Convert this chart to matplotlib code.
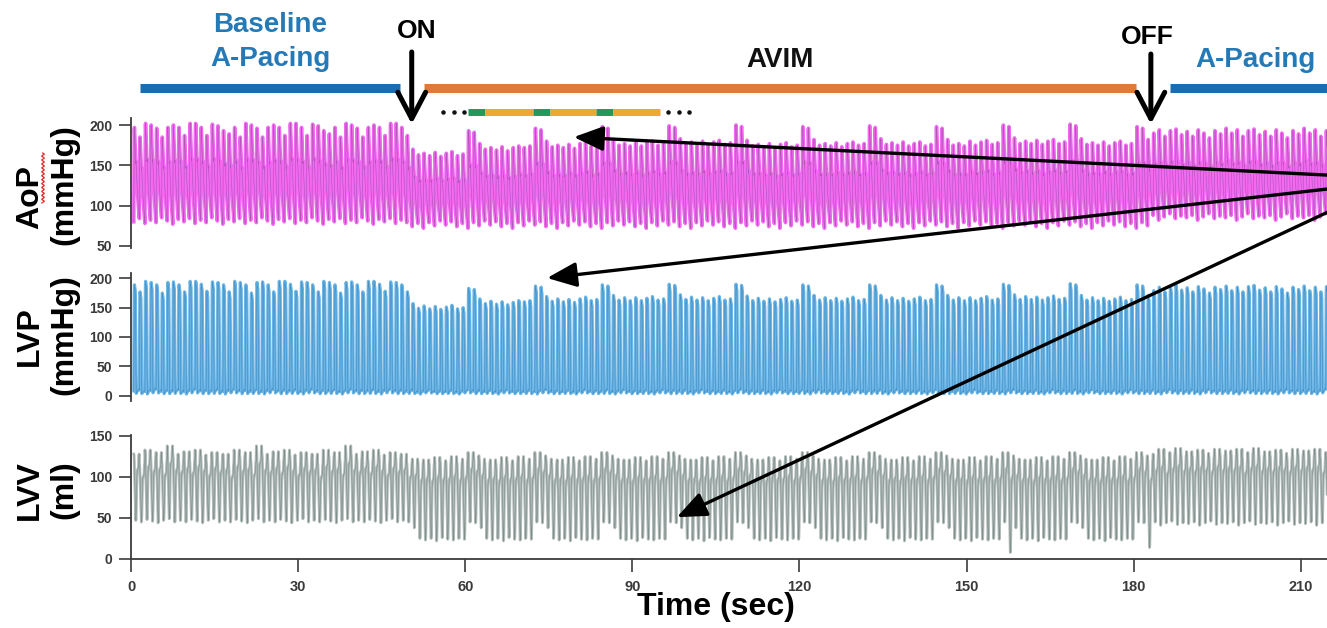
import numpy as np
import matplotlib
matplotlib.use("Agg")
import matplotlib.pyplot as plt
from matplotlib.transforms import blended_transform_factory

# ---------------- data ----------------
time_ticks = [0, 30, 60, 90, 120, 150, 180, 210]
aop_ticks = [50, 100, 150, 200]
lvp_ticks = [0, 50, 100, 150, 200]
lvv_ticks = [0, 50, 100, 150]

beat_period = 1.0          # s between beats
first_beat = 0.5           # s
t_end = 216.0
avim_on = 50.4             # ON arrow
avim_off = 183.1           # OFF arrow
avim_first_normal = 60.5   # first normal-AV ("green") beat of the AVIM cycle
avim_cycle_len = 12        # beats per AVIM cycle

phase_texts = ["Baseline\nA-Pacing", "AVIM", "A-Pacing"]
phase_start = [1.6, 52.6, 186.5]
phase_end = [48.3, 180.4, 218.0]
phase_text_x = [25.0, 116.5, 201.8]
phase_colors = ["#1b6db2", "#e07a3b", "#1b6db2"]
phase_text_colors = ["#2479b7", "#111111", "#2479b7"]

# AVIM pattern bar: n = normal AV (green), a = AVIM (orange)
pattern_start = [60.5, 63.5, 72.2, 75.2, 83.5, 86.5]
pattern_end = [63.5, 72.2, 75.2, 83.5, 86.5, 95.0]
pattern_kind = ["n", "a", "n", "a", "n", "a"]
pattern_dots = [56.0, 57.9, 59.7, 96.4, 98.3, 100.2]

# baseline / post-AVIM beat-to-beat peaks (cycled)
aop_base_sys = [197, 185, 202, 200, 196, 185, 197, 200, 197, 187, 202, 202, 197, 187, 201, 199, 193, 189]
aop_post_sys = [196, 190, 194, 186, 193, 195, 188, 192, 186, 194, 190, 184, 193, 189]
aop_base_dia = [80, 84, 78, 82, 79, 85, 81, 77, 83]
aop_avim_dia = [76, 80, 74, 78, 72, 79, 75, 81]
aop_post_dia = [85, 88, 82, 86, 90, 84, 87]

lvp_base_sys = [190, 178, 196, 194, 190, 176, 194, 195, 190, 178, 196, 196, 191, 179, 195, 194]
lvp_post_sys = [188, 180, 186, 178, 187, 189, 181, 185, 178, 187, 183, 176, 186, 182]
lvp_min = [3, 5, 2, 4, 6, 3, 4]

lvv_base_max = [128, 117, 133, 126, 130, 120, 138, 128, 124, 131, 122, 133, 127, 119, 130, 125]
lvv_post_max = [132, 128, 134, 124, 130, 135, 127, 131, 126, 133, 129, 125, 134, 128]
lvv_base_min = [47, 45, 48, 46, 44, 47, 49, 45]
lvv_post_min = [43, 45, 41, 44, 46, 42, 44]

# AVIM: one 12-beat cycle (2 normal-AV beats, then 10 AVIM beats)
aop_cycle_sys = [198, 196, 182, 175, 177, 174, 178, 173, 177, 179, 174, 176]
lvp_cycle_sys = [190, 188, 172, 164, 168, 163, 167, 162, 166, 169, 163, 165]
lvv_cycle_min = [45, 44, 38, 25, 23, 25, 22, 26, 24, 23, 25, 24]
lvv_cycle_max = [130, 126, 122, 118, 121, 117, 124, 119, 120, 125, 118, 122]

# slow drift of the AVIM peaks, per 10-s window
avim_win_start = [50, 60, 70, 80, 90, 100, 110, 120, 130, 140, 150, 160, 170, 180]
aop_avim_drift = [-12, -5, -2, 0, 1, 2, -1, 0, 1, 0, 2, 3, 1, 0]
lvp_avim_drift = [-14, -6, -2, 0, 1, 1, -1, 0, 0, 0, 1, 2, 0, 0]

# recording artefacts (deep LVV dips)
artifact_times = [157.5, 182.5]
lvv_artifact_min = [8, 14]

# one-beat wave shapes (fraction of the beat's min..max range)
aop_shape_phase = [0.0, 0.07, 0.12, 0.30, 0.34, 0.40, 0.55, 0.70, 0.85, 1.0]
aop_shape_frac = [0.0, 0.96, 1.0, 0.72, 0.60, 0.64, 0.42, 0.25, 0.11, 0.0]
lvp_shape_phase = [0.0, 0.06, 0.10, 0.28, 0.36, 0.42, 0.55, 0.90, 1.0]
lvp_shape_frac = [0.03, 0.85, 1.0, 0.93, 0.50, 0.0, 0.015, 0.04, 0.03]
lvv_shape_phase = [0.0, 0.06, 0.36, 0.42, 0.55, 0.62, 0.84, 0.93, 1.0]
lvv_shape_frac = [1.0, 0.98, 0.0, 0.02, 0.66, 0.75, 0.80, 1.0, 1.0]

# ---------------- build the traces ----------------
beat_times = []
t = first_beat
while t < t_end:
    beat_times.append(t)
    t += beat_period

aop_sys, aop_dia, lvp_sys, lvp_lo, lvv_hi, lvv_lo = [], [], [], [], [], []
for i, tb in enumerate(beat_times):
    if tb < avim_on:
        aop_sys.append(aop_base_sys[i % len(aop_base_sys)])
        aop_dia.append(aop_base_dia[i % len(aop_base_dia)])
        lvp_sys.append(lvp_base_sys[i % len(lvp_base_sys)])
        lvv_hi.append(lvv_base_max[i % len(lvv_base_max)])
        lvv_lo.append(lvv_base_min[i % len(lvv_base_min)])
    elif tb < avim_off:
        k = int(round((tb - avim_first_normal) / beat_period)) % avim_cycle_len
        w = int(np.searchsorted(avim_win_start, tb, side="right") - 1)
        aop_sys.append(aop_cycle_sys[k] + aop_avim_drift[w])
        aop_dia.append(aop_avim_dia[i % len(aop_avim_dia)])
        lvp_sys.append(lvp_cycle_sys[k] + lvp_avim_drift[w])
        lvv_hi.append(lvv_cycle_max[k])
        lvv_lo.append(lvv_cycle_min[k])
    else:
        aop_sys.append(aop_post_sys[i % len(aop_post_sys)])
        aop_dia.append(aop_post_dia[i % len(aop_post_dia)])
        lvp_sys.append(lvp_post_sys[i % len(lvp_post_sys)])
        lvv_hi.append(lvv_post_max[i % len(lvv_post_max)])
        lvv_lo.append(lvv_post_min[i % len(lvv_post_min)])
    lvp_lo.append(lvp_min[i % len(lvp_min)])
    for ta, va in zip(artifact_times, lvv_artifact_min):
        if abs(tb - ta) < beat_period / 2:
            lvv_lo[-1] = va

phase_grid = np.linspace(0, 1, 26)[:-1]


def build(lo, hi, sp, sf, lo_next_blend=True):
    xs, ys = [], []
    fr = np.interp(phase_grid, sp, sf)
    for i, tb in enumerate(beat_times):
        lo_i = lo[i]
        lo_n = lo[i + 1] if i + 1 < len(lo) else lo[i]
        base = lo_i + phase_grid * (lo_n - lo_i) if lo_next_blend else lo_i
        xs.append(tb + phase_grid * beat_period)
        ys.append(base + fr * (hi[i] - base))
    return np.concatenate(xs), np.concatenate(ys)


t_aop, y_aop = build(aop_dia, aop_sys, aop_shape_phase, aop_shape_frac)
t_lvp, y_lvp = build(lvp_lo, lvp_sys, lvp_shape_phase, lvp_shape_frac)
t_lvv, y_lvv = build(lvv_lo, lvv_hi, lvv_shape_phase, lvv_shape_frac, lo_next_blend=False)

# ---------------- figure ----------------
plt.rcParams["font.family"] = ["Liberation Sans", "DejaVu Sans"]
W, H = 1327, 628
fig = plt.figure(figsize=(W / 100, H / 100), dpi=100)


def frac_rect(x0, y_top, x1, y_bot):
    return [x0 / W, (H - y_bot) / H, (x1 - x0) / W, (y_bot - y_top) / H]


left_px = 131
ax_aop = fig.add_axes(frac_rect(left_px, 118, W, 248))
ax_lvp = fig.add_axes(frac_rect(left_px, 273, W, 401))
ax_lvv = fig.add_axes(frac_rect(left_px, 435, W, 559))

xmax = (W - left_px) / 5.57
spine_c = "#3c3c3c"
tick_c = "#3a3a3a"

traces = [
    (ax_aop, t_aop, y_aop, "#f26af2", "#9c4aa2", 0.7, (47.5, 208.7), aop_ticks, 2.6),
    (ax_lvp, t_lvp, y_lvp, "#6cb6e6", "#2f7bb5", 0.7, (-8.5, 208.5), lvp_ticks, 2.3),
    (ax_lvv, t_lvv, y_lvv, "#b0bcb9", "#56615f", 0.5, (0, 151.2), lvv_ticks, 2.0),
]
for ax, tx, ty, c_light, c_dark, a_dark, ylim, yt, lw in traces:
    ax.plot(tx, ty, color=c_light, lw=lw, solid_joinstyle="round")
    ax.plot(tx, ty, color=c_dark, lw=0.45, alpha=a_dark)
    ax.set_xlim(0, xmax)
    ax.set_ylim(*ylim)
    ax.set_yticks(yt)
    ax.set_yticklabels([str(v) for v in yt], fontsize=10, fontweight="bold", color=tick_c)
    for s in ("top", "right"):
        ax.spines[s].set_visible(False)
    ax.spines["left"].set_color(spine_c)
    ax.spines["left"].set_linewidth(1.3)
    ax.tick_params(axis="y", direction="out", length=8.5, width=1.2, color=spine_c, pad=5)
    ax.patch.set_alpha(0)

for ax in (ax_aop, ax_lvp):
    ax.spines["bottom"].set_visible(False)
    ax.set_xticks([])

ax_lvv.spines["bottom"].set_color(spine_c)
ax_lvv.spines["bottom"].set_linewidth(1.3)
ax_lvv.set_xticks(time_ticks)
ax_lvv.set_xticklabels([str(v) for v in time_ticks], fontsize=10.5, fontweight="bold", color=tick_c)
ax_lvv.tick_params(axis="x", direction="out", length=9, width=1.2, color=spine_c, pad=6)

# ---------------- overlay (annotations in pixel space) ----------------
ov = fig.add_axes([0, 0, 1, 1], zorder=10)
ov.set_xlim(0, W)
ov.set_ylim(H, 0)
ov.axis("off")
ov.patch.set_alpha(0)
bt = blended_transform_factory(ax_aop.transData, ov.transData)

ov.text(105, 607, "Time (sec)", fontsize=23, fontweight="bold", ha="center", va="center", transform=bt)

# y labels
for txt, x, y in [("AoP", 30, 197), ("(mmHg)", 64, 185), ("LVP", 30, 336), ("(mmHg)", 64, 335),
                  ("LVV", 30, 490), ("(ml)", 64, 490)]:
    ov.text(x, y, txt, rotation=90, fontsize=23, fontweight="bold", ha="center", va="center")
sq_y = np.linspace(153, 203, 80)
ov.plot(43 + 1.3 * np.sin(sq_y * 1.6), sq_y, color="#e03030", lw=0.9)

# phase bars and labels
for s, e, c in zip(phase_start, phase_end, phase_colors):
    ov.plot([s, e], [87.5, 87.5], color=c, lw=6.5, solid_capstyle="butt", transform=bt, clip_on=False)
ov.text(phase_text_x[0], 25, "Baseline", color=phase_text_colors[0], fontsize=20, fontweight="bold",
        ha="center", va="center", transform=bt)
ov.text(phase_text_x[0], 59, "A-Pacing", color=phase_text_colors[0], fontsize=20, fontweight="bold",
        ha="center", va="center", transform=bt)
ov.text(phase_text_x[1], 60, phase_texts[1], color=phase_text_colors[1], fontsize=20, fontweight="bold",
        ha="center", va="center", transform=bt)
ov.text(phase_text_x[2], 60, phase_texts[2], color=phase_text_colors[2], fontsize=20, fontweight="bold",
        ha="center", va="center", transform=bt)

# ON / OFF
ov.text(avim_on + 0.9, 31, "ON", fontsize=19, fontweight="bold", ha="center", va="center", transform=bt)
ov.text(avim_off - 0.7, 37, "OFF", fontsize=19, fontweight="bold", ha="center", va="center", transform=bt)
for xa, y0 in [(avim_on, 52), (avim_off, 54)]:
    ov.annotate("", xy=(xa, 124), xytext=(xa, y0), xycoords=bt, textcoords=bt,
                arrowprops=dict(arrowstyle="->,head_length=0.95,head_width=0.5", lw=3.6,
                                color="black", mutation_scale=20, shrinkA=0, shrinkB=0))

# AVIM pattern bar
for s, e, k in zip(pattern_start, pattern_end, pattern_kind):
    ov.plot([s, e], [111.5, 111.5], color="#23985a" if k == "n" else "#efa733", lw=5,
            solid_capstyle="butt", transform=bt)
ov.scatter(pattern_dots, [111.5] * len(pattern_dots), s=5, color="#111111", transform=bt, zorder=5)

# long pointer arrows
pointers = [(ax_aop, 79.5, 185, (1345, 176)),
            (ax_lvp, 74.7, 200, (1345, 187)),
            (ax_lvv, 98.0, 51, (1345, 204))]
for ax, tx, vy, tail in pointers:
    ov.annotate("", xy=(tx, vy), xycoords=ax.transData, xytext=tail, textcoords=ov.transData,
                annotation_clip=False,
                arrowprops=dict(arrowstyle="-|>,head_length=1.0,head_width=0.42", lw=2.4,
                                color="black", mutation_scale=18, shrinkA=0, shrinkB=0))

fig.savefig("out.png", dpi=100)
